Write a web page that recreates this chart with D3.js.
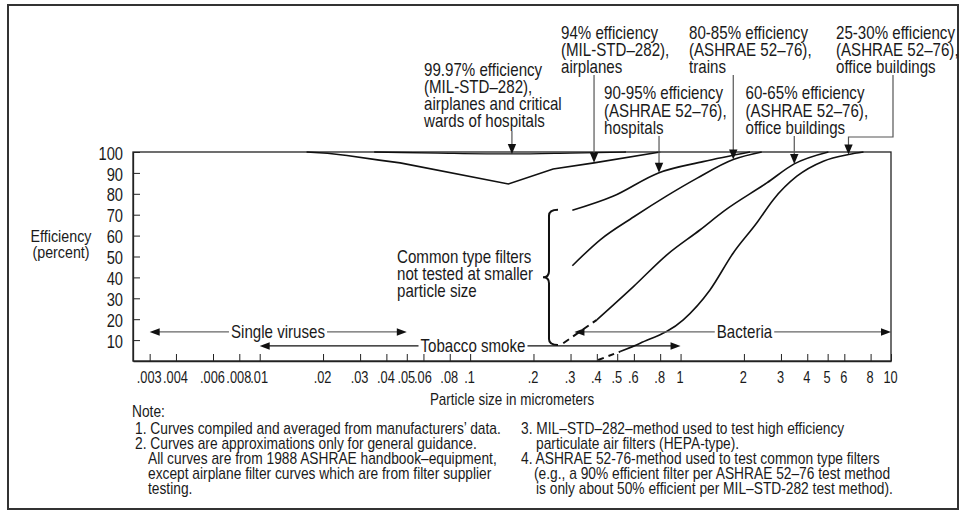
<!DOCTYPE html>
<html><head><meta charset="utf-8">
<script src="https://cdn.jsdelivr.net/npm/d3@7/dist/d3.min.js"></script>
<style>
html,body{margin:0;padding:0;background:#fff;}
svg{display:block;}
text{font-family:"Liberation Sans",Arial,sans-serif;fill:#1a1a1a;}
</style></head><body>
<svg id="chart" width="966" height="512"></svg>
<script>
// ---------- data ----------
const xTickValues = [0.003,0.004,0.006,0.008,0.01,0.02,0.03,0.04,0.05,0.06,0.08,0.1,0.2,0.3,0.4,0.5,0.6,0.8,1,2,3,4,5,6,8,10];
const xTickLabels = [".003",".004",".006",".008",".01",".02",".03",".04",".05",".06",".08",".1",".2",".3",".4",".5",".6",".8","1","2","3","4","5","6","8","10"];
const yTickValues = [10,20,30,40,50,60,70,80,90,100];

// curves: [particle size (micrometers), efficiency (%)]
const curveHepa9997 = [[0.035,100],[0.07,99.5],[0.158,99.1],[0.3,99.5],[0.55,100]];
const curveMil94 = [[0.0167,100],[0.021,99.4],[0.026,98.3],[0.037,96.1],[0.0465,94.8],[0.152,84.7],[0.248,91.9],[0.388,94.8],[0.8,100]];
const curveAshrae9095 = [[0.306,72.1],[0.477,78.8],[0.785,90],[1.28,95.4],[2.14,100]];
const curveAshrae8085 = [[0.306,45.6],[0.415,58],[0.6,69],[0.86,79],[1.2,87.5],[1.78,96.4],[2.43,100]];
const curveAshrae6065 = [[0.40,19.7],[0.597,35.6],[0.861,50.8],[1.24,62.8],[1.6,71.6],[2.57,85.2],[3.47,94.3],[5.04,100]];
const curveAshrae6065Untested = [[0.277,8.5],[0.40,19.7]];
const curveAshrae2530 = [[0.516,4.5],[0.643,8.5],[1.03,19.7],[1.38,34],[1.78,51.7],[2.30,66],[2.76,77.2],[3.57,88.4],[4.77,95.6],[6.28,98.8],[7.4,100]];
const curveAshrae2530Untested = [[0.406,0.5],[0.516,4.5]];

// annotation labels and the particle size their arrow points to
const labelHepa9997 = ["99.97% efficiency","(MIL-STD–282),","airplanes and critical","wards of hospitals"];
const labelMil94 = ["94% efficiency","(MIL-STD–282),","airplanes"];
const labelAshrae9095 = ["90-95% efficiency","(ASHRAE 52–76),","hospitals"];
const labelAshrae8085 = ["80-85% efficiency","(ASHRAE 52–76),","trains"];
const labelAshrae6065 = ["60-65% efficiency","(ASHRAE 52–76),","office buildings"];
const labelAshrae2530 = ["25-30% efficiency","(ASHRAE 52–76),","office buildings"];
const arrowSizes = [0.158,0.388,0.79,1.78,3.47,6.28];

// particle size ranges
const rangeNames = ["Single viruses","Tobacco smoke","Bacteria"];
const rangeFrom = [0.003,0.01,0.313];
const rangeTo = [0.05,1,10];
const rangeLevel = [13.9,7.2,13.9];

const braceLabel = ["Common type filters","not tested at smaller","particle size"];
const braceSize = 0.237, braceTop = 72.4, braceBottom = 7.7;

const noteTitle = "Note:";
const notesLeft = ["1. Curves compiled and averaged from manufacturers’ data.","2. Curves are approximations only for general guidance.","All curves are from 1988 ASHRAE handbook–equipment,","except airplane filter curves which are from filter supplier","testing."];
const notesRight = ["3. MIL–STD–282–method used to test high efficiency","particulate air filters (HEPA-type).","4. ASHRAE 52-76-method used to test common type filters","(e.g., a 90% efficient filter per ASHRAE 52–76 test method","is only about 50% efficient per MIL–STD-282 test method)."];

// ---------- drawing ----------
const svg = d3.select("#chart");
const FS = 18, FS_NOTE = 16.4, FS_TITLE = 16, FS_Y = 17.5, FS_X = 16, SX = 0.84, SX_X = 0.8;
const x = d3.scaleLog().domain([0.0025,10]).range([133,891]);
const y = d3.scaleLinear().domain([0,100]).range([361,152]);

// condensed text helper
function ctext(parent, tx, ty, str, anchor, fs){
  return parent.append("text")
    .attr("transform",`translate(${tx},${ty}) scale(${SX},1)`)
    .attr("dy","0.35em").attr("font-size",fs||FS).attr("text-anchor",anchor||"start").text(str);
}

// outer frame
svg.append("rect").attr("x",8).attr("y",5).attr("width",950).attr("height",504)
  .attr("fill","none").attr("stroke","#333").attr("stroke-width",2);

// plot box
svg.append("rect").attr("x",x(0.0025)).attr("y",y(100)).attr("width",x(10)-x(0.0025)).attr("height",y(0)-y(100))
  .attr("fill","none").attr("stroke","#222").attr("stroke-width",1.3);

// x axis
const xAxis = svg.append("g").attr("transform",`translate(0,${y(0)})`)
  .call(d3.axisBottom(x).tickValues(xTickValues).tickFormat((d,i)=>xTickLabels[i]).tickSizeInner(-7).tickSizeOuter(0));
xAxis.select(".domain").attr("stroke","#222").attr("stroke-width",1.3);
xAxis.selectAll(".tick line").attr("stroke","#222");
xAxis.selectAll(".tick text").attr("y",null).attr("dy","0.35em").attr("transform",`translate(-1,16) scale(${SX_X},1)`)
  .attr("font-size",FS_X).attr("font-family",null).attr("fill","#1a1a1a");

// y axis
const yAxis = svg.append("g").attr("transform",`translate(${x(0.0025)},0)`)
  .call(d3.axisLeft(y).tickValues(yTickValues).tickSizeInner(-7).tickSizeOuter(0));
yAxis.select(".domain").attr("stroke","#222").attr("stroke-width",1.3);
yAxis.selectAll(".tick line").attr("stroke","#222");
yAxis.selectAll(".tick text").attr("x",null).attr("dy","0.35em").attr("transform",`translate(-10,1) scale(${SX},1)`)
  .attr("font-size",FS_Y).attr("font-family",null).attr("fill","#1a1a1a");

// axis titles
ctext(svg,61,236,"Efficiency","middle",17);
ctext(svg,61,252,"(percent)","middle",17);
ctext(svg,512,399,"Particle size in micrometers","middle",FS_TITLE);

// curves
const lineSmooth = d3.line().x(d=>x(d[0])).y(d=>y(d[1])).curve(d3.curveMonotoneX);
const lineStraight = d3.line().x(d=>x(d[0])).y(d=>y(d[1]));
const curveG = svg.append("g").attr("fill","none").attr("stroke","#111").attr("stroke-width",1.6);
curveG.append("path").attr("d",lineSmooth(curveHepa9997)).attr("stroke-width",1.3);
curveG.append("path").attr("d",lineStraight(curveMil94));
curveG.append("path").attr("d",lineSmooth(curveAshrae9095));
curveG.append("path").attr("d",lineSmooth(curveAshrae8085));
curveG.append("path").attr("d",lineSmooth(curveAshrae6065));
curveG.append("path").attr("d",lineSmooth(curveAshrae2530));
curveG.append("path").attr("d",lineStraight(curveAshrae6065Untested)).attr("stroke-dasharray","7,5").attr("stroke-width",2);
curveG.append("path").attr("d",lineStraight(curveAshrae2530Untested)).attr("stroke-dasharray","6,5").attr("stroke-width",2);

function valueAt(curve, s){
  for(let i=0;i<curve.length-1;i++){
    const a=curve[i], b=curve[i+1];
    if(s>=a[0] && s<=b[0]){
      const t=(Math.log(s)-Math.log(a[0]))/(Math.log(b[0])-Math.log(a[0]));
      return a[1]+t*(b[1]-a[1]);
    }
  }
  return 100;
}

function head(g, xt, yt, dir, len, hw){
  let p;
  if(dir==="down") p=[[xt,yt],[xt-hw,yt-len],[xt+hw,yt-len]];
  else if(dir==="left") p=[[xt,yt],[xt+len,yt-hw],[xt+len,yt+hw]];
  else p=[[xt,yt],[xt-len,yt-hw],[xt-len,yt+hw]];
  g.append("path").attr("d","M"+p.map(q=>q.join(",")).join("L")+"Z").attr("fill","#111").attr("stroke","none");
}

// annotation labels
const annG = svg.append("g");
function block(lines, x0, yFirst, step){
  lines.forEach((t,i)=>ctext(annG,x0,yFirst+i*step,t));
}
block(labelHepa9997,424,70,16.8);
block(labelMil94,561,32.5,17.2);
block(labelAshrae9095,604,93,17.2);
block(labelAshrae8085,689,32.5,17.2);
block(labelAshrae6065,745.5,93,17.2);
block(labelAshrae2530,836,32.5,17.2);

const curvesForArrows = [curveHepa9997,curveMil94,curveAshrae9095,curveAshrae8085,curveAshrae6065,curveAshrae2530];
const arrowTails = [131,75,136,75,136,null];
const HL=10, HW=4.2;
arrowSizes.forEach((s,i)=>{
  const ax=x(s), tipY=y(valueAt(curvesForArrows[i],s));
  if(arrowTails[i]!==null){
    annG.append("line").attr("x1",ax).attr("x2",ax).attr("y1",arrowTails[i]).attr("y2",tipY-HL+1).attr("stroke","#555").attr("stroke-width",1.2);
  } else {
    const ex=x(10)+2, ey=137;
    annG.append("path").attr("d",`M${ex},75L${ex},${ey}L${ax},${ey}L${ax},${tipY-HL+1}`).attr("fill","none").attr("stroke","#555").attr("stroke-width",1.2);
  }
  head(annG, ax, tipY, "down", HL, HW);
});

// range arrows
const rngG = svg.append("g");
const rangeCenters = [278,473,744.5];
rangeNames.forEach((name,i)=>{
  const x1=x(rangeFrom[i]), x2=x(rangeTo[i]), yy=y(rangeLevel[i]);
  const col = i===1 ? "#111" : "#666";
  const cx = rangeCenters[i];
  const t = ctext(rngG,cx,yy,name,"middle");
  const w=t.node().getComputedTextLength()*SX;
  rngG.append("line").attr("x1",x1+8).attr("x2",cx-w/2-2).attr("y1",yy).attr("y2",yy).attr("stroke",col).attr("stroke-width",1.3);
  rngG.append("line").attr("x1",cx+w/2+2).attr("x2",x2-8).attr("y1",yy).attr("y2",yy).attr("stroke",col).attr("stroke-width",1.3);
  head(rngG,x1,yy,"left",10,3.8);
  head(rngG,x2,yy,"right",10,3.8);
});

// brace
const bx=x(braceSize), bt=y(braceTop), bb=y(braceBottom), bm=(bt+bb)/2;
svg.append("path").attr("d",
  `M${bx+9},${bt} Q${bx},${bt} ${bx},${bt+6} L${bx},${bm-6} Q${bx},${bm} ${bx-6},${bm} Q${bx},${bm} ${bx},${bm+6} L${bx},${bb-6} Q${bx},${bb} ${bx+9},${bb}`)
  .attr("fill","none").attr("stroke","#111").attr("stroke-width",2);
braceLabel.forEach((t,i)=>ctext(svg,397,257+i*16.6,t));

// notes
ctext(svg,132,411,noteTitle,"start",FS_NOTE);
const noteYs=[428,443,458,473,488];
const leftX=[135,135,148,148,148], rightX=[521,536,521,534,536];
notesLeft.forEach((t,i)=>ctext(svg,leftX[i],noteYs[i],t,"start",FS_NOTE));
notesRight.forEach((t,i)=>ctext(svg,rightX[i],noteYs[i],t,"start",FS_NOTE));
</script>
</body></html>
